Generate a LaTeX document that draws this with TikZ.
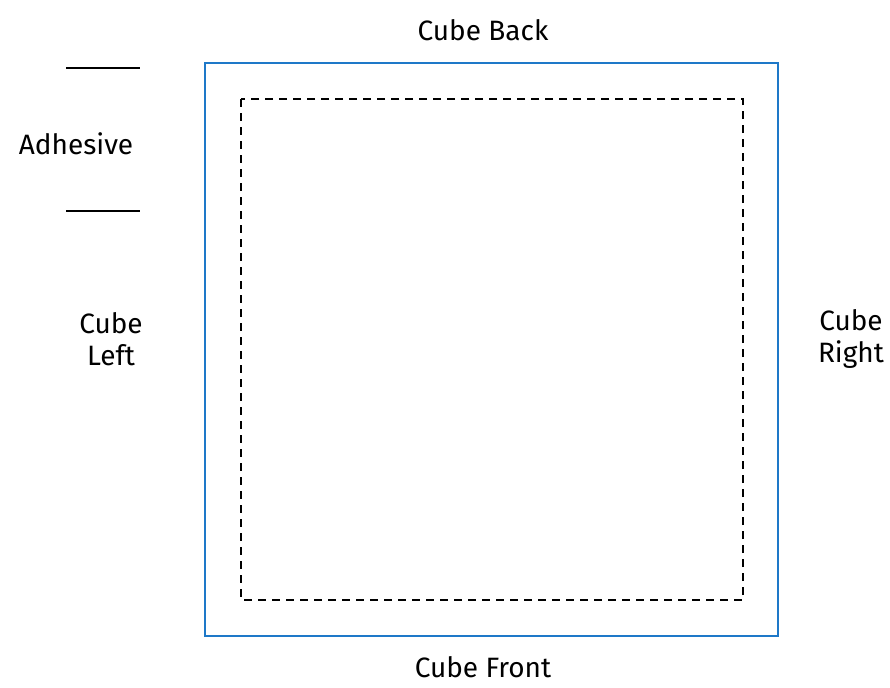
\documentclass[tikz,border=0pt]{standalone}
\usepackage{fontspec}
\setmainfont{Fira Sans}
\definecolor{cubeblue}{RGB}{30,120,200}
\begin{document}
\begin{tikzpicture}[x=0.75pt,y=-0.75pt,font=\fontsize{21}{24}\selectfont,
  lbl/.style={align=center,inner sep=0pt}]
\useasboundingbox (0,0) rectangle (890,687);
\draw [cubeblue,line width=1.6pt] (205,63) rectangle (778,636);
\draw [dashed,line width=1.6pt,dash pattern=on 6pt off 4.5pt] (241,99) rectangle (743,600);
\draw [line width=1.6pt] (66,68) --++ (74,0);
\draw [line width=1.6pt] (66,211) --++ (74,0);
\node (back) at (483,30) [lbl] {Cube Back};
\node (front) at (483,667) [lbl] {Cube Front};
\node (adh) at (76,144) [lbl] {Adhesive};
\node (left) at (111,339) [lbl] {Cube\\Left};
\node (right) at (851,339) [lbl] {Cube\\Right};
\end{tikzpicture}
\end{document}
